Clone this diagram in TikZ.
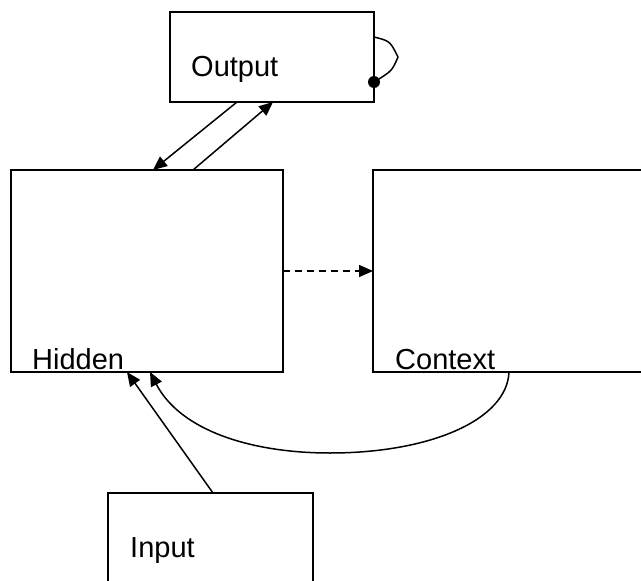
\documentclass[tikz,border=0pt]{standalone}
\usepackage{fontspec}
\setmainfont{Liberation Sans}
\usetikzlibrary{arrows.meta}
\begin{document}
\begin{tikzpicture}[x=1pt,y=-1pt,
  box/.style={draw, line width=1.8pt, inner sep=0pt, outer sep=0pt, anchor=north west},
  lbl/.style={anchor=base west, inner sep=0pt, font=\fontsize{29}{31}\selectfont},
  conn/.style={line width=1.5pt},
  arr/.style={conn, -{Triangle[length=14pt,width=12pt]}}]
\useasboundingbox (0,0) rectangle (641,581);
\clip (0,0) rectangle (641,581);
\fill[white] (0,0) rectangle (641,581);
% boxes
\node[box, minimum width=204pt, minimum height=90pt] (out) at (170,12) {};
\node[box, minimum width=272pt, minimum height=202pt] (hid) at (11,170) {};
\node[box, minimum width=290pt, minimum height=202pt] (ctx) at (373,170) {};
\node[box, minimum width=205pt, minimum height=120pt] (inp) at (108,493) {};
% labels
\node[lbl] (outl) at (191,76) {Output};
\node[lbl] (hidl) at (32,369) {Hidden};
\node[lbl] (ctxl) at (395,369) {Context};
\node[lbl] (inpl) at (130,557) {Input};
% self loop on output
\node[circle, fill, inner sep=0pt, minimum size=12pt] (dot) at ([yshift=-70pt]out.north east) {};
\draw[conn] ([yshift=-25pt]out.north east) .. controls +(16pt,-4pt) .. ([xshift=24pt]out.east)
  .. controls +(-6pt,-14pt) .. (dot.center);
% output <-> hidden
\draw[arr] ([xshift=67pt]out.south west) -- ([xshift=142pt]hid.north west);
\draw[arr] ([xshift=182pt]hid.north west) -- ([xshift=103pt]out.south west);
% hidden -> context (dashed)
\draw[arr, dash pattern=on 7pt off 5pt] (hid.east) -- (ctx.west);
% input -> hidden
\draw[arr] ([xshift=105pt]inp.north west) -- ([xshift=116pt]hid.south west);
% context -> hidden (curved)
\coordinate (low) at (330,453);
\draw[arr] ([xshift=136pt]ctx.south west) .. controls (507,420) and (430,453) .. (low)
  .. controls (250,453) and (180,430) .. ([xshift=139pt]hid.south west);
\end{tikzpicture}
\end{document}
